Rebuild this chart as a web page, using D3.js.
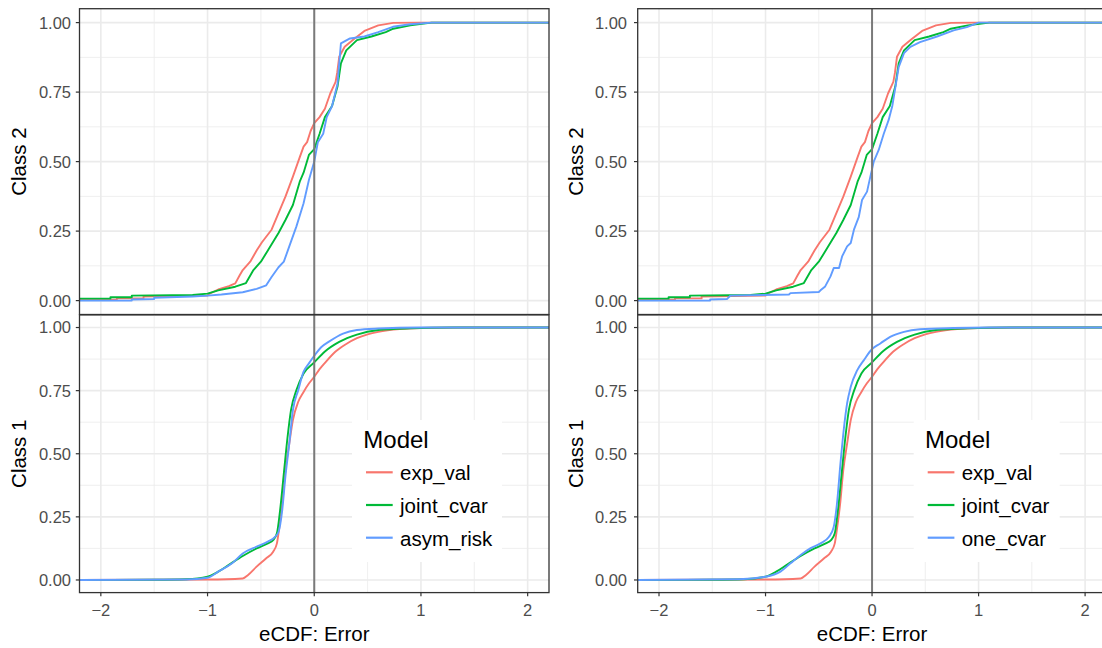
<!DOCTYPE html>
<html><head><meta charset="utf-8">
<script src="https://cdn.jsdelivr.net/npm/d3@7"></script>
<style>
html,body{margin:0;padding:0;background:#fff;}
svg{display:block;font-family:"Liberation Sans",Arial,Helvetica,sans-serif;}
</style></head>
<body><svg id="chart" width="1102" height="648"></svg>
<script>
// ---------- data ----------
const models = ["exp_val","joint_cvar"];
const leftThird = "asym_risk";
const rightThird = "one_cvar";
const colors = ["#F8766D","#00BA38","#619CFF"];
const xTicks = [-2,-1,0,1,2];
const xMinor = [-1.5,-0.5,0.5,1.5];
const yTicks = [0,0.25,0.5,0.75,1];
const yMinor = [0.125,0.375,0.625,0.875];
const yTickLabels = ["0.00","0.25","0.50","0.75","1.00"];
const xTickLabels = ["\u22122","\u22121","0","1","2"];
const facetLabels = ["Class 2","Class 1"];

const class2_exp_val = [[-2.2,0.003],[-1.85,0.003],[-1.85,0.008],[-1.6,0.008],[-1.6,0.015],[-1.0,0.018],[-0.98,0.025],[-0.9,0.04],[-0.8,0.052],[-0.74,0.062],[-0.7,0.09],[-0.67,0.11],[-0.6,0.14],[-0.54,0.18],[-0.49,0.21],[-0.40,0.255],[-0.335,0.315],[-0.27,0.374],[-0.2,0.446],[-0.134,0.518],[-0.10,0.554],[-0.067,0.57],[-0.034,0.61],[0,0.638],[0.05,0.66],[0.1,0.69],[0.15,0.745],[0.2,0.787],[0.215,0.82],[0.234,0.877],[0.285,0.913],[0.37,0.94],[0.47,0.97],[0.6,0.99],[0.74,0.999],[0.99,1],[2.2,1]];
const class2_joint_cvar = [[-2.2,0.007],[-1.91,0.007],[-1.91,0.012],[-1.71,0.012],[-1.71,0.018],[-1.14,0.02],[-1.0,0.025],[-0.9,0.037],[-0.74,0.05],[-0.64,0.063],[-0.57,0.11],[-0.5,0.14],[-0.435,0.18],[-0.335,0.243],[-0.27,0.29],[-0.2,0.344],[-0.134,0.43],[-0.1,0.46],[-0.05,0.524],[0,0.545],[0.05,0.6],[0.1,0.66],[0.167,0.70],[0.218,0.77],[0.25,0.853],[0.30,0.90],[0.40,0.937],[0.536,0.95],[0.67,0.966],[0.74,0.978],[0.9,0.99],[1.1,1],[2.2,1]];
const class2_asym_risk = [[-2.2,0],[-1.71,0],[-1.71,0.004],[-1.5,0.006],[-1.5,0.01],[-1.14,0.015],[-1.0,0.018],[-0.87,0.022],[-0.67,0.03],[-0.54,0.042],[-0.45,0.055],[-0.40,0.085],[-0.335,0.12],[-0.285,0.14],[-0.234,0.195],[-0.167,0.267],[-0.1,0.35],[-0.05,0.434],[0,0.50],[0.034,0.57],[0.084,0.60],[0.117,0.66],[0.167,0.70],[0.218,0.78],[0.24,0.88],[0.25,0.925],[0.335,0.943],[0.47,0.95],[0.6,0.966],[0.737,0.985],[0.9,0.994],[1.1,1],[2.2,1]];
const class2_one_cvar = [[-2.2,0],[-1.52,0],[-1.52,0.004],[-1.36,0.006],[-1.33,0.018],[-0.78,0.022],[-0.766,0.027],[-0.5,0.031],[-0.484,0.037],[-0.44,0.051],[-0.39,0.087],[-0.36,0.117],[-0.31,0.117],[-0.28,0.16],[-0.234,0.195],[-0.2,0.207],[-0.17,0.255],[-0.125,0.30],[-0.094,0.362],[-0.047,0.392],[-0.016,0.446],[0.016,0.50],[0.0625,0.542],[0.11,0.60],[0.156,0.65],[0.19,0.70],[0.22,0.77],[0.25,0.84],[0.30,0.89],[0.36,0.913],[0.45,0.93],[0.61,0.95],[0.766,0.972],[0.89,0.984],[1.0,1],[2.2,1]];

const class1_exp_val = [[-2.2,0],[-1.0,0.002],[-0.67,0.006],[-0.62,0.02],[-0.54,0.053],[-0.45,0.086],[-0.385,0.112],[-0.35,0.145],[-0.335,0.185],[-0.30,0.30],[-0.27,0.435],[-0.234,0.54],[-0.2,0.633],[-0.15,0.706],[-0.1,0.745],[-0.05,0.778],[0,0.805],[0.05,0.835],[0.1,0.86],[0.2,0.905],[0.3,0.935],[0.4,0.958],[0.5,0.973],[0.6,0.983],[0.8,0.994],[1.0,0.998],[1.4,1],[2.2,1]];
const class1_joint_cvar = [[-2.2,0],[-1.5,0.001],[-1.2,0.003],[-1.0,0.013],[-0.9,0.033],[-0.8,0.06],[-0.67,0.095],[-0.54,0.125],[-0.435,0.145],[-0.385,0.158],[-0.35,0.185],[-0.32,0.277],[-0.285,0.422],[-0.25,0.567],[-0.218,0.673],[-0.167,0.752],[-0.1,0.818],[0,0.862],[0.1,0.905],[0.234,0.943],[0.4,0.972],[0.6,0.99],[0.9,0.997],[1.3,1],[2.2,1]];
const class1_asym_risk = [[-2.2,0],[-1.2,0.002],[-1.0,0.009],[-0.9,0.033],[-0.77,0.066],[-0.67,0.105],[-0.54,0.132],[-0.435,0.152],[-0.37,0.17],[-0.335,0.19],[-0.30,0.277],[-0.27,0.41],[-0.234,0.54],[-0.2,0.673],[-0.15,0.752],[-0.1,0.825],[-0.05,0.858],[0,0.888],[0.067,0.923],[0.134,0.943],[0.27,0.976],[0.4,0.99],[0.6,0.996],[1.0,1],[2.2,1]];
const class1_one_cvar = [[-2.2,0],[-1.25,0.003],[-1.0,0.013],[-0.86,0.033],[-0.766,0.066],[-0.67,0.099],[-0.58,0.125],[-0.484,0.145],[-0.406,0.17],[-0.36,0.21],[-0.33,0.30],[-0.297,0.46],[-0.266,0.594],[-0.234,0.70],[-0.2,0.765],[-0.14,0.83],[-0.078,0.87],[0,0.915],[0.078,0.937],[0.17,0.963],[0.3,0.983],[0.45,0.993],[0.766,0.998],[1.1,1],[2.2,1]];

// ---------- layout ----------
const svg = d3.select("#chart");
const panels = [
  {x0:79.5, x1:549, third:leftThird,
   top:[class2_exp_val,class2_joint_cvar,class2_asym_risk],
   bot:[class1_exp_val,class1_joint_cvar,class1_asym_risk],
   yLabEnd:71, yTitleX:25.5, legendX:352, legendW:150},
  {x0:637.7, x1:1106.4, third:rightThird,
   top:[class2_exp_val,class2_joint_cvar,class2_one_cvar],
   bot:[class1_exp_val,class1_joint_cvar,class1_one_cvar],
   yLabEnd:627, yTitleX:583, legendX:913.7, legendW:146}
];
const facets = [{y0:8.7, y1:314.5}, {y0:314.9, y1:592.6}];

panels.forEach((p, pi) => {
  const x = d3.scaleLinear().domain([-2.2,2.2]).range([p.x0,p.x1]);
  facets.forEach((f, fi) => {
    const y = d3.scaleLinear().domain([-0.05,1.05]).range([f.y1,f.y0]);
    const g = svg.append("g");
    const cid = `clip${pi}${fi}`;
    svg.append("clipPath").attr("id",cid).append("rect")
      .attr("x",p.x0).attr("y",f.y0).attr("width",p.x1-p.x0).attr("height",f.y1-f.y0);
    const inner = g.append("g").attr("clip-path",`url(#${cid})`);
    // grid
    inner.selectAll(".vmin").data(xMinor).join("line")
      .attr("x1",d=>x(d)).attr("x2",d=>x(d)).attr("y1",f.y0).attr("y2",f.y1)
      .attr("stroke","#EBEBEB").attr("stroke-width",0.8);
    inner.selectAll(".hmin").data(yMinor).join("line")
      .attr("y1",d=>y(d)).attr("y2",d=>y(d)).attr("x1",p.x0).attr("x2",p.x1)
      .attr("stroke","#EBEBEB").attr("stroke-width",0.8);
    inner.selectAll(".vmaj").data(xTicks).join("line")
      .attr("x1",d=>x(d)).attr("x2",d=>x(d)).attr("y1",f.y0).attr("y2",f.y1)
      .attr("stroke","#EBEBEB").attr("stroke-width",1.6);
    inner.selectAll(".hmaj").data(yTicks).join("line")
      .attr("y1",d=>y(d)).attr("y2",d=>y(d)).attr("x1",p.x0).attr("x2",p.x1)
      .attr("stroke","#EBEBEB").attr("stroke-width",1.6);
    // curves
    const series = fi===0 ? p.top : p.bot;
    const line = d3.line().x(d=>x(d[0])).y(d=>y(d[1]))
      .curve(fi===0 ? d3.curveLinear : d3.curveMonotoneX);
    series.forEach((s, si) => {
      inner.append("path").attr("d", line(s)).attr("fill","none")
        .attr("stroke", colors[si]).attr("stroke-width",1.9).attr("stroke-linejoin","round");
    });
    // zero line
    inner.append("line").attr("x1",x(0)).attr("x2",x(0)).attr("y1",f.y0).attr("y2",f.y1)
      .attr("stroke","#7A7A7A").attr("stroke-width",2);
    // y axis ticks + labels
    yTicks.forEach((t, ti) => {
      g.append("line").attr("x1",p.x0-3.7).attr("x2",p.x0).attr("y1",y(t)).attr("y2",y(t))
        .attr("stroke","#333333").attr("stroke-width",1.2);
      g.append("text").attr("x",p.yLabEnd).attr("y",y(t)).attr("dy","0.36em")
        .attr("text-anchor","end").attr("font-size","16.5px").attr("fill","#4D4D4D")
        .text(yTickLabels[ti]);
    });
    // facet y title
    const cy = (f.y0+f.y1)/2;
    g.append("text").attr("transform",`translate(${p.yTitleX},${cy}) rotate(-90)`)
      .attr("text-anchor","middle").attr("font-size","20.5px").attr("fill","#000")
      .text(facetLabels[fi]);
    // border
    g.append("rect").attr("x",p.x0).attr("y",f.y0).attr("width",p.x1-p.x0).attr("height",f.y1-f.y0)
      .attr("fill","none").attr("stroke","#333333").attr("stroke-width",1.3);
    // x axis (bottom facet only)
    if (fi===1) {
      xTicks.forEach((t, ti) => {
        g.append("line").attr("x1",x(t)).attr("x2",x(t)).attr("y1",f.y1).attr("y2",f.y1+3.7)
          .attr("stroke","#333333").attr("stroke-width",1.2);
        g.append("text").attr("x",x(t)).attr("y",615.5).attr("text-anchor","middle")
          .attr("font-size","16.5px").attr("fill","#4D4D4D").text(xTickLabels[ti]);
      });
      g.append("text").attr("x",(p.x0+p.x1)/2).attr("y",640.5).attr("text-anchor","middle")
        .attr("font-size","20.5px").attr("fill","#000").text("eCDF: Error");
      // legend
      const names = [models[0], models[1], p.third];
      const lg = svg.append("g");
      lg.append("rect").attr("x",p.legendX).attr("y",420).attr("width",p.legendW).attr("height",142)
        .attr("fill","#fff");
      lg.append("text").attr("x",p.legendX+11.3).attr("y",447.7).attr("font-size","24px")
        .attr("fill","#000").text("Model");
      const keyY = [472.3,505,537.7];
      names.forEach((n, ni) => {
        lg.append("line").attr("x1",p.legendX+14).attr("x2",p.legendX+40.7)
          .attr("y1",keyY[ni]).attr("y2",keyY[ni]).attr("stroke",colors[ni]).attr("stroke-width",2.2);
        lg.append("text").attr("x",p.legendX+48).attr("y",keyY[ni]+8)
          .attr("font-size","20.5px").attr("fill","#000").text(n);
      });
    }
  });
});
</script></body></html>
